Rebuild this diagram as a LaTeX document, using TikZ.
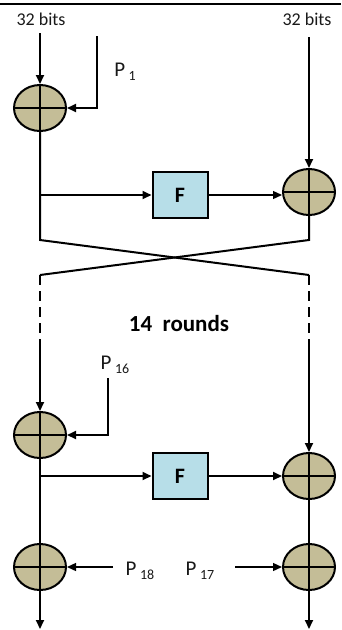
\documentclass[tikz,border=0pt]{standalone}
\usepackage{fontspec}
\setmainfont{Carlito}
\usetikzlibrary{shapes.geometric,arrows.meta}
\definecolor{xortan}{HTML}{C4BD97}
\definecolor{fblue}{HTML}{B7DEE8}
\newcommand{\subkey}[1]{P\,\raisebox{-4pt}{\fontsize{14}{14}\selectfont #1}}
\tikzset{
  xorgate/.style={ellipse,draw,line width=2pt,fill=xortan,minimum width=52pt,
    minimum height=46pt,inner sep=0pt,
    path picture={\draw[line width=1.8pt]
      (path picture bounding box.north) -- (path picture bounding box.south)
      (path picture bounding box.west) -- (path picture bounding box.east);}},
  fblock/.style={draw,line width=2pt,fill=fblue,minimum width=55pt,minimum height=46pt,
    font=\fontsize{22}{22}\selectfont\bfseries},
  wire/.style={line width=2pt},
  thinwire/.style={line width=1.3pt},
  feed/.style={-{Triangle[length=9pt,width=8pt]}},
  lbl/.style={font=\fontsize{18}{18}\selectfont,text=black!90},
  keylbl/.style={font=\fontsize{21}{21}\selectfont,text=black!90}
}
\begin{document}
\begin{tikzpicture}[x=1pt,y=-1pt]
\useasboundingbox (0,0) rectangle (341,630);
\draw[line width=1.5pt] (0,4) -- (341,4);

% first round
\node[lbl] (bitsl) at (41,19) {32 bits};
\node[lbl] (bitsr) at (307,19) {32 bits};
\coordinate (inl) at (40,33);
\coordinate (inr) at (309,37);
\coordinate (pa) at (97,36);
\node[xorgate] (xl1) at (40,108) {};
\node[xorgate] (xr1) at (309,192) {};
\node[fblock] (fa) at (180,195) {F};
\node[keylbl] (p1) at (125,72) {\subkey{1}};

\draw[wire,feed] (inl) -- (xl1.north);
\draw[wire,feed] (pa) |- (xl1.east);
\draw[wire,feed] (inr) -- (xr1.north);
\draw[wire,feed] (xl1 |- fa) -- (fa.west);
\draw[thinwire,feed] (fa.east) -- (fa.east -| xr1.west);

% swap
\coordinate (cl) at (40,240);
\coordinate (cr) at (309,240);
\coordinate (dl) at (40,275);
\coordinate (dr) at (309,275);
\draw[wire] (xl1.south) -- (cl) -- (dr);
\draw[wire] (xr1.south) -- (cr) -- (dl);

% middle rounds
\coordinate (el) at (40,345);
\coordinate (er) at (309,345);
\draw[wire,dash pattern=on 10pt off 6pt] (dl) -- (el);
\draw[wire,dash pattern=on 10pt off 6pt] (dr) -- (er);
\node[font=\fontsize{23}{23}\selectfont\bfseries] (rounds) at (179,324) {14\ \ rounds};

% last round
\node[xorgate] (xl2) at (40,435) {};
\node[xorgate] (xr2) at (309,476) {};
\node[fblock] (fb) at (180,476) {F};
\node[keylbl] (p16) at (115,365) {\subkey{16}};
\coordinate (pb) at (108,378);
\draw[wire,feed] (el) -- (xl2.north);
\draw[wire,feed] (er) -- (xr2.north);
\draw[wire,feed] (pb) |- (xl2.east);
\draw[wire,feed] (xl2 |- fb) -- (fb.west);
\draw[wire,feed] (fb.east) -- (xr2.west);

% output whitening
\node[xorgate] (xl3) at (40,567) {};
\node[xorgate] (xr3) at (309,567) {};
\node[keylbl] (p18) at (140,571) {\subkey{18}};
\node[keylbl] (p17) at (200,571) {\subkey{17}};
\coordinate (pc) at (113,567);
\coordinate (pd) at (235,567);
\coordinate (outl) at (40,629);
\coordinate (outr) at (309,629);
\draw[wire] (xl2.south) -- (xl3.north);
\draw[wire] (xr2.south) -- (xr3.north);
\draw[thinwire,feed] (pc) -- (xl3.east);
\draw[thinwire,feed] (pd) -- (xr3.west);
\draw[wire,feed] (xl3.south) -- (outl);
\draw[wire,feed] (xr3.south) -- (outr);
\end{tikzpicture}
\end{document}
